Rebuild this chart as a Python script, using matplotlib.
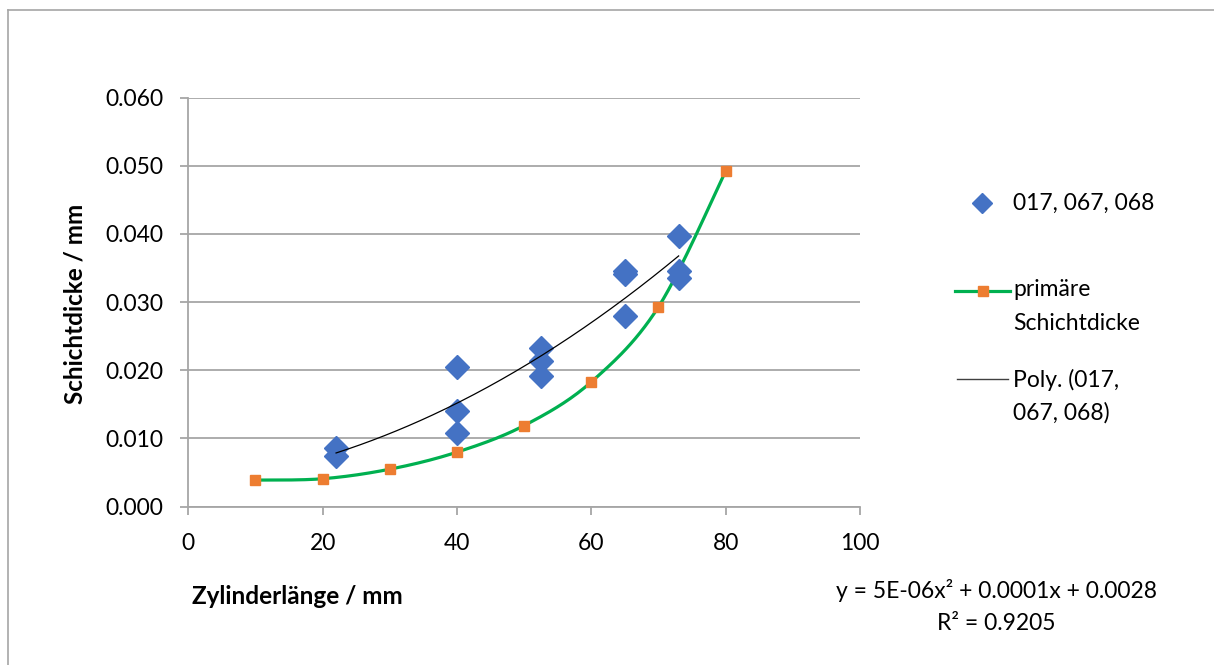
import numpy as np
import matplotlib
matplotlib.use("Agg")
import matplotlib.pyplot as plt
from matplotlib.lines import Line2D

plt.rcParams['font.family'] = ['Lato', 'DejaVu Sans']

# Data
scatter_x = [22, 22, 40, 40, 40, 52.5, 52.5, 52.5, 65, 65, 65, 73, 73, 73]
scatter_y = [0.0086, 0.0075, 0.0205, 0.0141, 0.0108, 0.0232, 0.0214, 0.0192,
             0.0345, 0.0341, 0.0279, 0.0397, 0.0346, 0.0335]
prim_x = [10, 20, 30, 40, 50, 60, 70, 80]
prim_y = [0.0039, 0.0041, 0.0055, 0.0080, 0.0119, 0.0183, 0.0293, 0.0492]
x_ticks = [0, 20, 40, 60, 80, 100]
y_ticks = [0.0, 0.01, 0.02, 0.03, 0.04, 0.05, 0.06]
series_label = "017, 067, 068"
prim_label = "primäre\nSchichtdicke"
trend_label = "Poly. (017,\n067, 068)"
eq_text = "y = 5E-06x² + 0.0001x + 0.0028\nR² = 0.9205"

FS = 16.5
FSB = 17.5
W, H = 1214, 665
fig = plt.figure(figsize=(W / 100, H / 100), dpi=100)
ax = fig.add_axes([188.3 / W, 1 - 506.7 / H, (860 - 188.3) / W, (506.7 - 97.5) / H])

# border (left & top visible)
fig.add_artist(Line2D([8 / W, 8 / W], [0, 1 - 10 / H], transform=fig.transFigure, color='#A6A6A6', lw=1.2))
fig.add_artist(Line2D([8 / W, 1], [1 - 10 / H, 1 - 10 / H], transform=fig.transFigure, color='#A6A6A6', lw=1.2))

ax.set_xlim(0, 100)
ax.set_ylim(0, 0.06)
ax.set_xticks(x_ticks)
ax.set_yticks(y_ticks)
ax.set_yticklabels([f"{v:.3f}" for v in y_ticks])
ax.yaxis.grid(True, color='#A6A6A6', lw=1.3)
ax.set_axisbelow(True)
for s in ['top', 'right']:
    ax.spines[s].set_visible(False)
for s in ['left', 'bottom']:
    ax.spines[s].set_color('#A6A6A6')
    ax.spines[s].set_linewidth(1.3)
ax.tick_params(axis='both', colors='#A6A6A6', length=6, width=1.3, labelsize=FS,
               labelcolor='black', direction='out')
ax.tick_params(axis='x', pad=13)
ax.tick_params(axis='y', pad=12)

# smooth curve (Excel-style bezier) in normalized coords
def smooth(xs, ys, sx, sy, n=30):
    P = np.column_stack([np.array(xs) / sx, np.array(ys) / sy])
    out = []
    m = len(P)
    for i in range(m - 1):
        p0 = P[i]; p3 = P[i + 1]
        prev = P[i - 1] if i > 0 else P[i]
        nxt = P[i + 2] if i + 2 < m else P[i + 1]
        c1 = p0 + (p3 - prev) / 6
        c2 = p3 - (nxt - p0) / 6
        t = np.linspace(0, 1, n)[:, None]
        seg = (1 - t) ** 3 * p0 + 3 * (1 - t) ** 2 * t * c1 + 3 * (1 - t) * t ** 2 * c2 + t ** 3 * p3
        out.append(seg if i == 0 else seg[1:])
    out = np.vstack(out)
    return out[:, 0] * sx, out[:, 1] * sy

sx, sy = smooth(prim_x, prim_y, 100, 0.06)
green = '#00B050'
orange = '#ED7D31'
blue = '#4472C4'
ax.plot(sx, sy, color=green, lw=2.3, zorder=3, solid_capstyle='round')
ax.plot(prim_x, prim_y, ls='none', marker='s', ms=7, color=orange, zorder=4)

ax.plot(scatter_x, scatter_y, ls='none', marker='D', ms=12, color=blue, zorder=5)

coef = np.polyfit(scatter_x, scatter_y, 2)
tx = np.linspace(min(scatter_x), max(scatter_x), 200)
ax.plot(tx, np.polyval(coef, tx), color='black', lw=0.9, zorder=6)

# axis labels
fig.text(75 / W, 1 - 304 / H, "Schichtdicke / mm", rotation=90, ha='center', va='center',
         fontsize=FSB, fontweight='bold')
fig.text(192 / W, 1 - 596 / H, "Zylinderlänge / mm", ha='left', va='center',
         fontsize=FSB, fontweight='bold')

# manual legend
tf = fig.transFigure
fig.add_artist(Line2D([982 / W], [1 - 203 / H], transform=tf, marker='D', ms=10, color=blue, ls='none'))
fig.text(1013 / W, 1 - 203 / H, series_label, ha='left', va='center', fontsize=FS)
fig.add_artist(Line2D([955 / W, 1010 / W], [1 - 291 / H, 1 - 291 / H], transform=tf, color=green, lw=2.3))
fig.add_artist(Line2D([982.5 / W], [1 - 291 / H], transform=tf, marker='s', ms=7, color=orange, ls='none'))
fig.text(1013 / W, 1 - 290 / H, "primäre", ha='left', va='center', fontsize=FS)
fig.text(1013 / W, 1 - 323 / H, "Schichtdicke", ha='left', va='center', fontsize=FS)
fig.add_artist(Line2D([957 / W, 1008 / W], [1 - 379 / H, 1 - 379 / H], transform=tf, color='#404040', lw=1.0))
fig.text(1013 / W, 1 - 380 / H, "Poly. (017,", ha='left', va='center', fontsize=FS)
fig.text(1013 / W, 1 - 413 / H, "067, 068)", ha='left', va='center', fontsize=FS)

# equation
l1, l2 = eq_text.split("\n")
fig.text(996 / W, 1 - 591 / H, l1, ha='center', va='center', fontsize=FS)
fig.text(996 / W, 1 - 623 / H, l2, ha='center', va='center', fontsize=FS)

fig.savefig("out.png", dpi=100)
